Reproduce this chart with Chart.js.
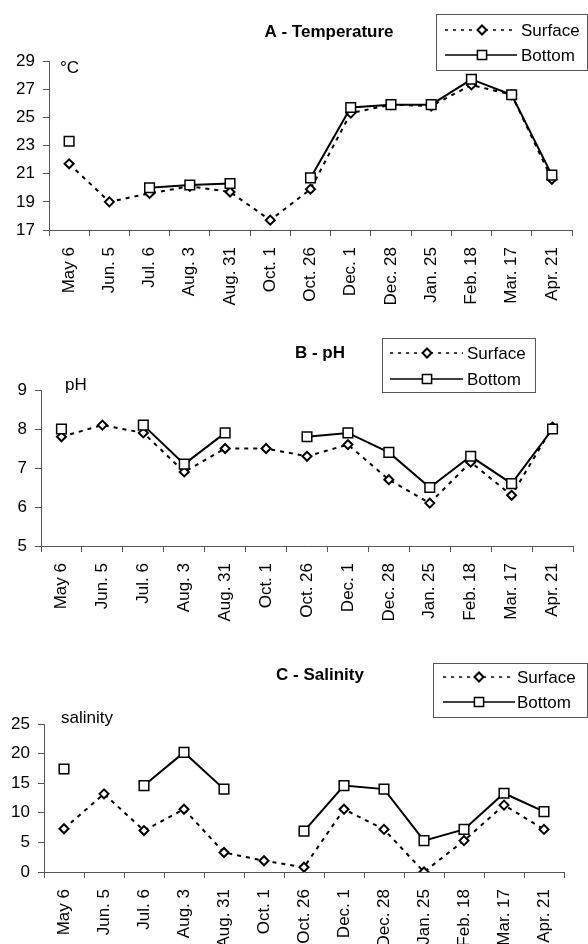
<!DOCTYPE html>
<html>
<head>
<meta charset="utf-8">
<script src="https://cdn.jsdelivr.net/npm/chart.js@4.4.1/dist/chart.umd.min.js"></script>
<style>
  body { margin: 0; background: #fff; }
  canvas { position: absolute; left: 0; }
</style>
</head>
<body>
<canvas id="chartA" width="588" height="312" style="top:0px"></canvas>
<canvas id="chartB" width="588" height="318" style="top:312px"></canvas>
<canvas id="chartC" width="588" height="314" style="top:630px"></canvas>
<script>
//Sampling dates (x categories)
const dates = ["May 6", "Jun. 5", "Jul. 6", "Aug. 3", "Aug. 31", "Oct. 1", "Oct. 26",
  "Dec. 1", "Dec. 28", "Jan. 25", "Feb. 18", "Mar. 17", "Apr. 21"];
const seriesNames = ["Surface", "Bottom"];

//A - Temperature
const tempSurface = [21.7, 19.0, 19.6, 20.1, 19.7, 17.7, 19.9, 25.3, 25.9, 25.8, 27.3, 26.6, 20.6];
const tempBottom = [23.3, null, 20.0, 20.2, 20.3, null, 20.7, 25.7, 25.9, 25.9, 27.7, 26.6, 20.9];
//B - pH
const phSurface = [7.8, 8.1, 7.9, 6.9, 7.5, 7.5, 7.3, 7.6, 6.7, 6.1, 7.15, 6.3, 8.05];
const phBottom = [8.0, null, 8.1, 7.1, 7.9, null, 7.8, 7.9, 7.4, 6.5, 7.3, 6.6, 8.0];
//C - Salinity
const salSurface = [7.3, 13.2, 7.0, 10.6, 3.3, 1.9, 0.8, 10.6, 7.2, 0.0, 5.3, 11.3, 7.2];
const salBottom = [17.4, null, 14.6, 20.2, 14.0, null, 6.9, 14.6, 14.0, 5.3, 7.2, 13.3, 10.2];

const FONT = "'Liberation Sans', Arial, sans-serif";
const AXIS = "#555";

//marker used in the legend
function marker(ctx, style, x, y) {
  ctx.save();
  ctx.fillStyle = "#fff";
  ctx.strokeStyle = "#000";
  ctx.setLineDash([]);
  ctx.beginPath();
  if (style == "rectRot") {
    ctx.lineWidth = 2;
    ctx.moveTo(x - 4.5, y); ctx.lineTo(x, y - 4.5); ctx.lineTo(x + 4.5, y); ctx.lineTo(x, y + 4.5);
    ctx.closePath();
  } else {
    ctx.lineWidth = 1.5;
    ctx.rect(x - 4.6, y - 4.6, 9.2, 9.2);
  }
  ctx.fill();
  ctx.stroke();
  ctx.restore();
}

//Title, unit label and boxed legend
const panelDecor = {
  id: "panelDecor",
  afterDraw(chart, args, o) {
    const ctx = chart.ctx;
    ctx.save();
    ctx.fillStyle = "#000";
    ctx.textBaseline = "middle";
    ctx.font = "bold 17px " + FONT;
    ctx.textAlign = "center";
    ctx.fillText(o.title, o.titleX, o.titleY);
    ctx.font = "17px " + FONT;
    ctx.textAlign = "left";
    ctx.fillText(o.unit, o.unitX, o.unitY);

    const b = o.box;
    ctx.strokeStyle = AXIS;
    ctx.lineWidth = 1;
    ctx.strokeRect(b.x + 0.5, b.y + 0.5, b.w, b.h);
    chart.data.datasets.forEach((ds, i) => {
      const y = o.rows[i];
      ctx.strokeStyle = "#000";
      ctx.lineWidth = 1.5;
      ctx.setLineDash(ds.borderDash ? [3, 5] : []);
      ctx.beginPath();
      ctx.moveTo(o.lineX[0], y);
      ctx.lineTo(o.lineX[1], y);
      ctx.stroke();
      marker(ctx, ds.pointStyle, o.markX, y);
      ctx.fillStyle = "#000";
      ctx.fillText(ds.label, o.textX, y + 1);
    });
    ctx.restore();
  }
};

function makeChart(id, surface, bottom, cfg) {
  return new Chart(document.getElementById(id), {
    type: "line",
    data: {
      labels: dates,
      datasets: [
        {
          label: seriesNames[0], data: surface, order: 1,
          borderColor: "#000", borderWidth: 2, borderDash: [4, 5],
          pointStyle: "rectRot", pointRadius: 4.5, pointBorderWidth: 2,
          pointBackgroundColor: "#fff", pointBorderColor: "#000",
        },
        {
          label: seriesNames[1], data: bottom, order: 0,
          borderColor: "#000", borderWidth: 2, spanGaps: false,
          pointStyle: "rect", pointRadius: 6.8, pointBorderWidth: 1.5,
          pointBackgroundColor: "#fff", pointBorderColor: "#000",
        },
      ],
    },
    options: {
      responsive: false,
      animation: false,
      layout: { padding: { top: cfg.top, right: cfg.right, left: 0, bottom: 0 } },
      plugins: {
        legend: { display: false },
        tooltip: { enabled: false },
        panelDecor: cfg.decor,
      },
      scales: {
        x: {
          offset: true,
          grid: { offset: true, drawOnChartArea: false, tickLength: 6, color: AXIS },
          border: { color: AXIS },
          ticks: { minRotation: 90, maxRotation: 90, autoSkip: false, padding: 11,
            color: "#000", font: { size: 17, family: FONT } },
          afterFit: (s) => { s.height = cfg.xHeight; },
        },
        y: {
          min: cfg.min, max: cfg.max,
          grid: { drawOnChartArea: false, tickLength: 6, color: AXIS },
          border: { color: AXIS },
          ticks: { stepSize: cfg.step, padding: 8, color: "#000", font: { size: 17, family: FONT } },
          afterFit: (s) => { s.width = cfg.left; },
        },
      },
    },
    plugins: [panelDecor],
  });
}

makeChart("chartA", tempSurface, tempBottom, {
  top: 61, right: 16, left: 49, xHeight: 82, min: 17, max: 29, step: 2,
  decor: { title: "A - Temperature", titleX: 329, titleY: 32, unit: "°C", unitX: 60, unitY: 68,
    box: { x: 436, y: 14, w: 151, h: 56 }, rows: [30, 55], lineX: [445, 517], markX: 482, textX: 521 },
});
makeChart("chartB", phSurface, phBottom, {
  top: 78, right: 15, left: 41, xHeight: 84, min: 5, max: 9, step: 1,
  decor: { title: "B - pH", titleX: 320, titleY: 41, unit: "pH", unitX: 65, unitY: 73,
    box: { x: 382, y: 26, w: 153, h: 54 }, rows: [41, 67], lineX: [390, 463], markX: 427, textX: 467 },
});
makeChart("chartC", salSurface, salBottom, {
  top: 94, right: 24, left: 44, xHeight: 72, min: 0, max: 25, step: 5,
  decor: { title: "C - Salinity", titleX: 320, titleY: 45, unit: "salinity", unitX: 61, unitY: 88,
    box: { x: 433, y: 33, w: 154, h: 54 }, rows: [47, 72], lineX: [443, 515], markX: 479, textX: 517 },
});
</script>
</body>
</html>
